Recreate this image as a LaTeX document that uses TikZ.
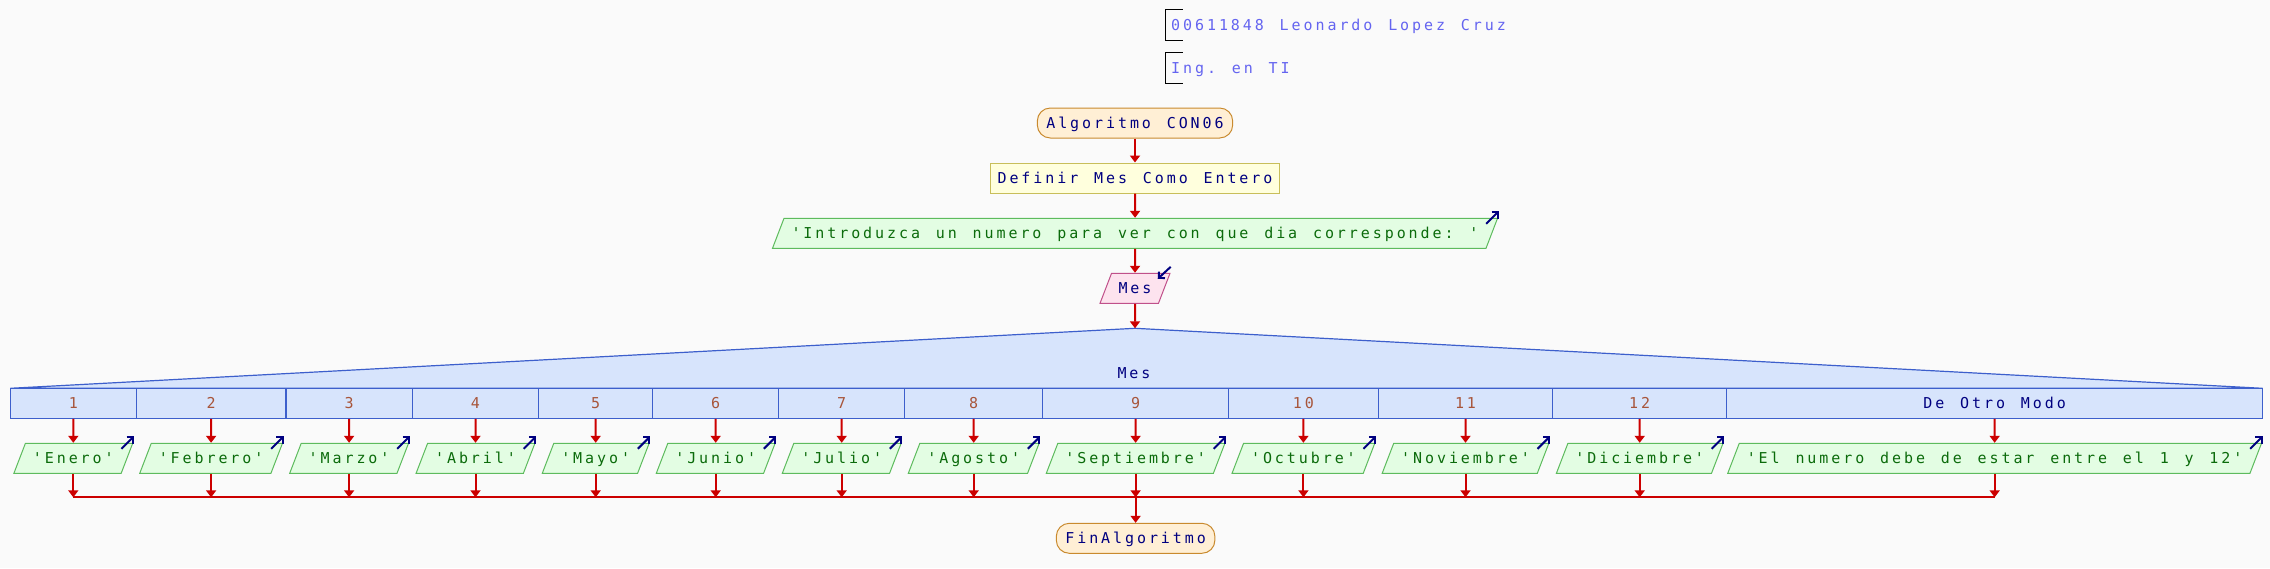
\documentclass[tikz,border=0pt]{standalone}
\usepackage{fontspec}
\usepackage{xcolor}
\usepackage{tikz}
\usetikzlibrary{positioning,shapes.geometric,arrows.meta}
\setmonofont{DejaVu Sans Mono}[LetterSpace=19.5,WordSpace=1.323]
\definecolor{PageGray}{HTML}{FAFAFA}
\definecolor{FlowRed}{HTML}{CC0000}
\definecolor{NavyText}{HTML}{000080}
\definecolor{TermFill}{HTML}{FFEFD5}
\definecolor{TermLine}{HTML}{C98A2E}
\definecolor{ProcFill}{HTML}{FFFFDD}
\definecolor{ProcLine}{HTML}{C8BE5A}
\definecolor{OutFill}{HTML}{E3FDE3}
\definecolor{OutLine}{HTML}{5DBB5D}
\definecolor{OutText}{HTML}{0B6B0B}
\definecolor{InFill}{HTML}{FDE3EE}
\definecolor{InLine}{HTML}{C0508A}
\definecolor{SwFill}{HTML}{D7E4FC}
\definecolor{SwLine}{HTML}{3D5FCC}
\definecolor{CaseText}{HTML}{A8553A}
\definecolor{HdrText}{HTML}{6464F0}
\tikzset{
  base/.style={font=\ttfamily\fontsize{7.5}{9}\selectfont,line width=0.5pt,
    text height=6.4pt,text depth=1.1pt,inner ysep=3.75pt},
  hdr/.style={base,text=HdrText,anchor=west,inner xsep=2.5pt},
  brk/.style={draw=black,line width=0.6pt},
  term/.style={base,draw=TermLine,fill=TermFill,rounded corners=6.5pt,
    inner xsep=4.5pt,text=NavyText},
  proc/.style={base,draw=ProcLine,fill=ProcFill,inner xsep=3.3pt,text=NavyText},
  outp/.style={base,trapezium,trapezium left angle=69,trapezium right angle=111,
    draw=OutLine,fill=OutFill,inner xsep=3.75pt,text=OutText},
  inp/.style={base,trapezium,trapezium left angle=69,trapezium right angle=111,
    draw=InLine,fill=InFill,inner xsep=3.5pt,text=NavyText},
  swshape/.style={draw=SwLine,fill=SwFill,line width=0.6pt},
  swlabel/.style={base,text=NavyText},
  casecell/.style={base,draw=SwLine,fill=SwFill,line width=0.6pt,text=CaseText,
    inner xsep=0pt,minimum height=15pt},
  flow/.style={draw=FlowRed,line width=1pt,-{Triangle[length=3.5pt,width=5pt]}},
  flowline/.style={draw=FlowRed,line width=1pt},
  ioarr/.style={draw=NavyText,line width=1pt,-{Straight Barb[length=2.2pt,width=4.4pt]}},
}
\begin{document}
\begin{tikzpicture}[x=0.5pt,y=-0.5pt]
  \useasboundingbox[fill=PageGray] (0,0) rectangle (2270,568);
  % encabezado
  \node[hdr] (h1) at (1165.7,25.3) {00611848 Leonardo Lopez Cruz};
  \node[hdr] (h2) at (1165.7,68.3) {Ing. en TI};
  \draw[brk] ([xshift=8.5pt]h1.north west) -| (h1.south west) -- ++(8.5pt,0);
  \draw[brk] ([xshift=8.5pt]h2.north west) -| (h2.south west) -- ++(8.5pt,0);
  % inicio
  \node[term] (ini) at (1135,123) {Algoritmo CON06};
  \node[proc] (def) at (1135,178) {Definir Mes Como Entero};
  \node[outp] (msg) at (1135,233.3) {'Introduzca un numero para ver con que dia corresponde: '};
  \node[inp] (lee) at (1135,288.3) {Mes};
  % segun
  \coordinate (swtop) at (1135,328.3);
  \coordinate (swl) at (10.3,388.3);
  \coordinate (swr) at (2262.5,388.3);
  \filldraw[swshape] (swl) -- (swtop) -- (swr) -- cycle;
  \node[swlabel] (sw) at (1134,373.3) {Mes};
  \node[casecell,minimum width=63pt] (c1) at (73.3,403.3) {1};
  \node[casecell,minimum width=74.8pt] (c2) at (211.1,403.3) {2};
  \node[casecell,minimum width=63.2pt] (c3) at (349.1,403.3) {3};
  \node[casecell,minimum width=63.2pt] (c4) at (475.5,403.3) {4};
  \node[casecell,minimum width=57pt] (c5) at (595.7,403.3) {5};
  \node[casecell,minimum width=63pt] (c6) at (715.7,403.3) {6};
  \node[casecell,minimum width=63pt] (c7) at (841.7,403.3) {7};
  \node[casecell,minimum width=69pt] (c8) at (973.7,403.3) {8};
  \node[casecell,minimum width=92.9pt] (c9) at (1135.6,403.3) {9};
  \node[casecell,minimum width=74.9pt] (c10) at (1303.4,403.3) {10};
  \node[casecell,minimum width=87.2pt] (c11) at (1465.5,403.3) {11};
  \node[casecell,minimum width=87pt] (c12) at (1639.7,403.3) {12};
  \node[casecell,minimum width=267.9pt,text=NavyText] (c13) at (1994.6,403.3) {De Otro Modo};
  % salidas
  \node[outp] (o1) at (73.3,458.3) {'Enero'};
  \node[outp] (o2) at (211.1,458.3) {'Febrero'};
  \node[outp] (o3) at (349.1,458.3) {'Marzo'};
  \node[outp] (o4) at (475.5,458.3) {'Abril'};
  \node[outp] (o5) at (595.7,458.3) {'Mayo'};
  \node[outp] (o6) at (715.7,458.3) {'Junio'};
  \node[outp] (o7) at (841.7,458.3) {'Julio'};
  \node[outp] (o8) at (973.7,458.3) {'Agosto'};
  \node[outp] (o9) at (1135.6,458.3) {'Septiembre'};
  \node[outp] (o10) at (1303.4,458.3) {'Octubre'};
  \node[outp] (o11) at (1465.5,458.3) {'Noviembre'};
  \node[outp] (o12) at (1639.7,458.3) {'Diciembre'};
  \node[outp] (o13) at (1994.6,458.3) {'El numero debe de estar entre el 1 y 12'};
  % fin
  \coordinate (mrg) at (1135.6,497.3);
  \node[term] (fin) at (1135.6,538.3) {FinAlgoritmo};
  % flechas principales
  \draw[flow] (ini.south) -- (def.north);
  \draw[flow] (def.south) -- (msg.north);
  \draw[flow] (msg.south) -- (lee.north);
  \draw[flow] (lee.south) -- (swtop);
  \draw[flow] (c1.south) -- (o1.north);
  \draw[flow] (c2.south) -- (o2.north);
  \draw[flow] (c3.south) -- (o3.north);
  \draw[flow] (c4.south) -- (o4.north);
  \draw[flow] (c5.south) -- (o5.north);
  \draw[flow] (c6.south) -- (o6.north);
  \draw[flow] (c7.south) -- (o7.north);
  \draw[flow] (c8.south) -- (o8.north);
  \draw[flow] (c9.south) -- (o9.north);
  \draw[flow] (c10.south) -- (o10.north);
  \draw[flow] (c11.south) -- (o11.north);
  \draw[flow] (c12.south) -- (o12.north);
  \draw[flow] (c13.south) -- (o13.north);
  \draw[flowline] (o1.south |- mrg) -- (o13.south |- mrg);
  \draw[flow] (o1.south) -- (o1.south |- mrg);
  \draw[flow] (o2.south) -- (o2.south |- mrg);
  \draw[flow] (o3.south) -- (o3.south |- mrg);
  \draw[flow] (o4.south) -- (o4.south |- mrg);
  \draw[flow] (o5.south) -- (o5.south |- mrg);
  \draw[flow] (o6.south) -- (o6.south |- mrg);
  \draw[flow] (o7.south) -- (o7.south |- mrg);
  \draw[flow] (o8.south) -- (o8.south |- mrg);
  \draw[flow] (o9.south) -- (o9.south |- mrg);
  \draw[flow] (o10.south) -- (o10.south |- mrg);
  \draw[flow] (o11.south) -- (o11.south |- mrg);
  \draw[flow] (o12.south) -- (o12.south |- mrg);
  \draw[flow] (o13.south) -- (o13.south |- mrg);
  \draw[flow] (mrg) -- (fin.north);
  % marcas de entrada/salida
  \draw[ioarr] ([shift={(0,-6)}]lee.top right corner) -- ++(-13,12);
  \draw[ioarr] ([shift={(-12,6)}]msg.top right corner) -- ++(12.5,-12.5);
  \draw[ioarr] ([shift={(-12,6)}]o1.top right corner) -- ++(12.5,-12.5);
  \draw[ioarr] ([shift={(-12,6)}]o2.top right corner) -- ++(12.5,-12.5);
  \draw[ioarr] ([shift={(-12,6)}]o3.top right corner) -- ++(12.5,-12.5);
  \draw[ioarr] ([shift={(-12,6)}]o4.top right corner) -- ++(12.5,-12.5);
  \draw[ioarr] ([shift={(-12,6)}]o5.top right corner) -- ++(12.5,-12.5);
  \draw[ioarr] ([shift={(-12,6)}]o6.top right corner) -- ++(12.5,-12.5);
  \draw[ioarr] ([shift={(-12,6)}]o7.top right corner) -- ++(12.5,-12.5);
  \draw[ioarr] ([shift={(-12,6)}]o8.top right corner) -- ++(12.5,-12.5);
  \draw[ioarr] ([shift={(-12,6)}]o9.top right corner) -- ++(12.5,-12.5);
  \draw[ioarr] ([shift={(-12,6)}]o10.top right corner) -- ++(12.5,-12.5);
  \draw[ioarr] ([shift={(-12,6)}]o11.top right corner) -- ++(12.5,-12.5);
  \draw[ioarr] ([shift={(-12,6)}]o12.top right corner) -- ++(12.5,-12.5);
  \draw[ioarr] ([shift={(-12,6)}]o13.top right corner) -- ++(12.5,-12.5);
\end{tikzpicture}
\end{document}
